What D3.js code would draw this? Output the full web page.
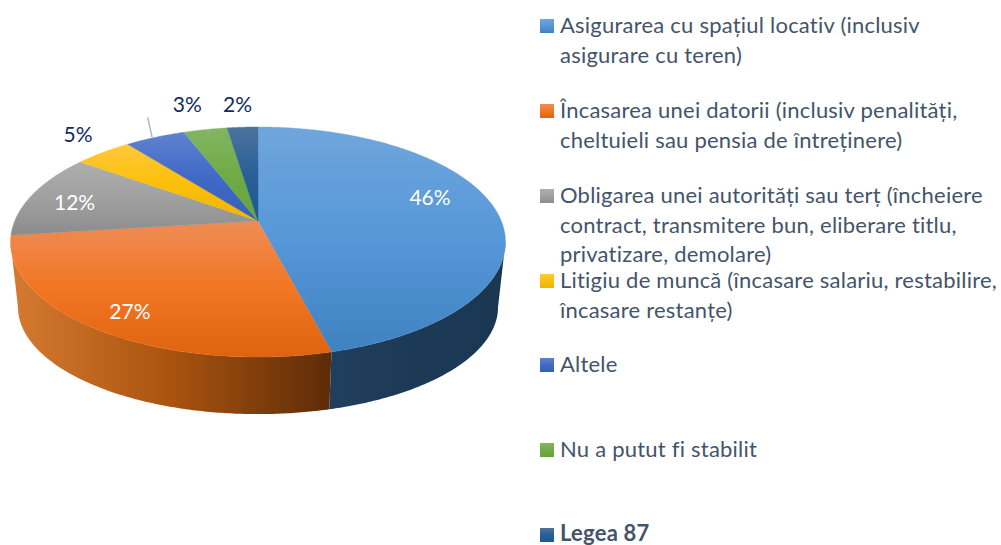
<!DOCTYPE html>
<html><head><meta charset="utf-8">
<style>html,body{margin:0;padding:0;background:#fff;overflow:hidden}svg{display:block}</style>
<script src="https://cdn.jsdelivr.net/npm/d3@7"></script></head>
<body><svg id="c" width="1001" height="545"></svg>
<script>
const categories=["Asigurarea cu spațiul locativ (inclusiv asigurare cu teren)","Încasarea unei datorii (inclusiv penalități, cheltuieli sau pensia de întreținere)","Obligarea unei autorități sau terț (încheiere contract, transmitere bun, eliberare titlu, privatizare, demolare)","Litigiu de muncă (încasare salariu, restabilire, încasare restanțe)","Altele","Nu a putut fi stabilit","Legea 87"];
const values=[46,27,12,4.5,4.7,3.4,2.4];
const dataLabels=["46%","27%","12%","5%","","3%","2%"];
const legendLines=[["Asigurarea cu spațiul locativ (inclusiv","asigurare cu teren)"],["Încasarea unei datorii (inclusiv penalități,","cheltuieli sau pensia de întreținere)"],["Obligarea unei autorități sau terț (încheiere","contract, transmitere bun, eliberare titlu,","privatizare, demolare)"],["Litigiu de muncă (încasare salariu, restabilire,","încasare restanțe)"],["Altele"],["Nu a putut fi stabilit"],["Legea 87"]];
const topStops=[["#70a6dc","#5597d8","#3f82c1"],["#ee8c55","#f27623","#e0640f"],["#aeaeae","#a0a0a0","#8c8c8c"],["#ffc83c","#fbc00a","#eeb400"],["#5f83d0","#4169c6","#3560b8"],["#82b662","#70ab47","#66a43a"],["#4d739f","#2a5f96","#1a5a8f"]];
const sideStops=[["#203f5e","#1c3a56","#1a3752"],["#d67a30","#a9530f","#5e2c08"],["#6a6a6a","#5a5a5a","#4a4a4a"],["#806000","#705400","#604800"],["#223a70","#1e3466","#1a2e5c"],["#3e6428","#385a24","#325020"],["#0f2f4f","#0e2b49","#0c2742"]];
// layout
const W=1001,H=545,cx=258,persp=-0.1826;
const topRim={cy:221,a:243.3,b:111.2},botRim={cy:287.5,a:236,b:103.5};
const labelOffsets=[[-64,-9],[33,-17],[42,8.5],[-25,-17],[0,0],[-18,-25],[-5,-22]];
const legendX=560,swatchX=540,swatchSize=14,lineH=29.5;
const legendBaselines=[33,118,203,288,372,457,542];

const svg=d3.select("#c");
const defs=svg.append("defs");
const pie=d3.pie().value(d=>d).sort(null).startAngle(0).endAngle(2*Math.PI);
const arcs=pie(values);
function proj(rim,ang){const u=Math.sin(ang),v=-Math.cos(ang),d=1+persp*v;return [cx+rim.a*u/d,rim.cy+rim.b*v/d];}
const samples=(s,e)=>{const n=Math.max(2,Math.ceil((e-s)/0.01));return d3.range(n+1).map(i=>s+(e-s)*i/n);};
const line=d3.line();
function grad(id,stops,attrs){const g=defs.append("linearGradient").attr("id",id);
 Object.entries(attrs).forEach(([k,v])=>g.attr(k,v));
 stops.forEach((c,i)=>g.append("stop").attr("offset",i/(stops.length-1)).attr("stop-color",c));}
topStops.forEach((s,i)=>{grad("t"+i,s,{x1:0,y1:0,x2:0,y2:1});grad("l"+i,s,{x1:0,y1:0,x2:0,y2:1});});
// side wall: only the rim facing the viewer, between the silhouette tangents
const tangent=Math.acos(persp);
const front=[tangent,2*Math.PI-tangent];
arcs.forEach((a,i)=>{
 const s=Math.max(a.startAngle,front[0]),e=Math.min(a.endAngle,front[1]);
 if(e<=s)return;
 const t=samples(s,e),up=t.map(x=>proj(topRim,x)),dn=t.map(x=>proj(botRim,x)).reverse();
 const xs=up.concat(dn).map(p=>p[0]);
 grad("s"+i,sideStops[i],{gradientUnits:"userSpaceOnUse",x1:d3.min(xs),x2:d3.max(xs),y1:0,y2:0});
 svg.append("path").attr("d",line(up.concat(dn))+"Z").attr("fill",`url(#s${i})`);
});
// top face
const apex=[cx,topRim.cy];
arcs.forEach((a,i)=>{
 const pts=[apex].concat(samples(a.startAngle,a.endAngle).map(x=>proj(topRim,x)));
 svg.append("path").attr("d",line(pts)+"Z").attr("fill",`url(#t${i})`).attr("stroke",`url(#t${i})`).attr("stroke-width",0.4);
});
// leader line
const lp=proj(topRim,(arcs[4].startAngle+arcs[4].endAngle)/2);
svg.append("line").attr("x1",lp[0]-3).attr("y1",lp[1]).attr("x2",lp[0]-7.5).attr("y2",lp[1]-20).attr("stroke","#a9b9cc").attr("stroke-width",1.5);
// data labels
const font="Lato, 'Open Sans', sans-serif";
arcs.forEach((a,i)=>{
 if(!dataLabels[i])return;
 const p=proj(topRim,(a.startAngle+a.endAngle)/2);
 svg.append("text").attr("x",p[0]+labelOffsets[i][0]).attr("y",p[1]+labelOffsets[i][1]+7)
  .attr("text-anchor","middle").attr("font-family",font).attr("font-size",21)
  .attr("fill",i<3?"#ffffff":"#0f2a63").text(dataLabels[i]);
});
// legend
categories.forEach((c,i)=>{
 const y=legendBaselines[i];
 svg.append("rect").attr("x",swatchX).attr("y",y-swatchSize).attr("width",swatchSize).attr("height",swatchSize).attr("fill",`url(#l${i})`);
 const ty=i===6?y-1.5:y;
 legendLines[i].forEach((l,j)=>svg.append("text").attr("x",legendX).attr("y",ty+j*lineH)
  .attr("font-family",font).attr("font-size",22).attr("letter-spacing",0.22).attr("fill","#44546a").attr("font-weight",i===6?700:400).text(l));
});
</script></body></html>
